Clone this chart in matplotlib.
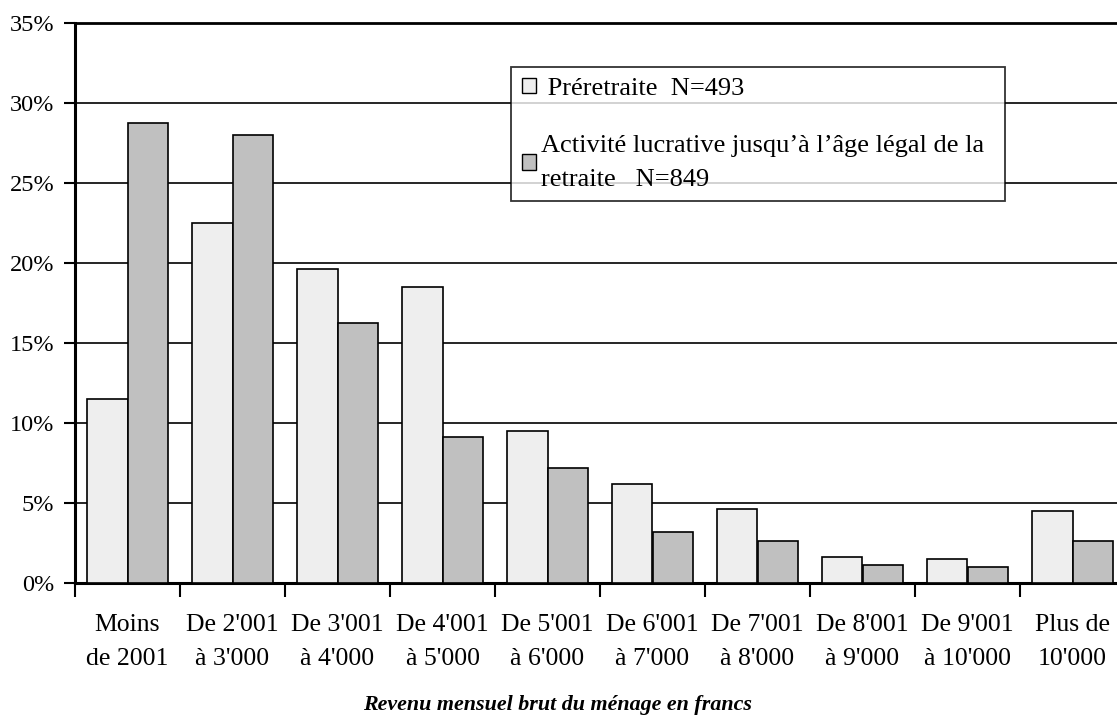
import matplotlib
matplotlib.use("Agg")
import matplotlib.pyplot as plt
from matplotlib.patches import Patch
from matplotlib.ticker import FuncFormatter
import numpy as np

# Données (en %)
categories = ["Moins\nde 2001", "De 2'001\nà 3'000", "De 3'001\nà 4'000",
              "De 4'001\nà 5'000", "De 5'001\nà 6'000", "De 6'001\nà 7'000",
              "De 7'001\nà 8'000", "De 8'001\nà 9'000", "De 9'001\nà 10'000",
              "Plus de\n10'000"]
preretraite = [11.5, 22.5, 19.6, 18.5, 9.5, 6.2, 4.6, 1.6, 1.5, 4.5]
activite = [28.75, 28.0, 16.25, 9.1, 7.2, 3.2, 2.6, 1.1, 1.0, 2.6]
legend_labels = [" Préretraite  N=493",
                 "Activité lucrative jusqu\u2019à l\u2019âge légal de la\nretraite   N=849"]

plt.rcParams['font.family'] = ['Liberation Serif', 'DejaVu Serif']

fig = plt.figure(figsize=(11.17, 7.17), dpi=100)
ax = fig.add_axes([75 / 1117, 1 - 583 / 717, 1050 / 1117, 560 / 717])

x = np.arange(len(categories))
w = 0.39
ax.bar(x - w / 2, preretraite, w, color='#EEEEEE', edgecolor='black', linewidth=1.2, zorder=3)
ax.bar(x + w / 2, activite, w, color='#C0C0C0', edgecolor='black', linewidth=1.2, zorder=3)

ax.set_xlim(-0.5, 9.5)
ax.set_ylim(0, 35)
ax.set_yticks(np.arange(0, 36, 5))
ax.yaxis.set_major_formatter(FuncFormatter(lambda v, p: f"{v:.0f}%"))
ax.yaxis.grid(True, color='black', linewidth=1.2, zorder=0)
ax.set_axisbelow(True)

ax.set_xticks(x)
ax.set_xticklabels(categories, fontsize=18.5, linespacing=1.72)
ax.set_xticks(np.arange(-0.5, 9.6, 1), minor=True)
ax.tick_params(axis='x', which='major', length=0, pad=22)
ax.tick_params(axis='x', which='minor', length=10, width=1.5, direction='out')
ax.tick_params(axis='y', length=8, width=1.5, pad=7, labelsize=17.5)

for s in ['left', 'bottom']:
    ax.spines[s].set_linewidth(2.2)
ax.spines['top'].set_linewidth(2.0)
ax.spines['right'].set_visible(False)

handles = [Patch(facecolor='#EEEEEE', edgecolor='black'),
           Patch(facecolor='#C0C0C0', edgecolor='black')]
leg = fig.legend(handles, legend_labels, loc='upper left', mode='expand',
                 bbox_to_anchor=(511 / 1117, 1 - 200 / 717, 494 / 1117, 133 / 717),
                 fontsize=19, frameon=True, fancybox=False, edgecolor='black',
                 handlelength=0.55, handleheight=0.55, handletextpad=0.2,
                 labelspacing=1.35, borderpad=0.4, borderaxespad=0)
leg.get_frame().set_linewidth(1.3)
leg.get_texts()[1].set_linespacing(1.65)

fig.text(558 / 1117, 1 - 705 / 717, "Revenu mensuel brut du ménage en francs",
         ha='center', va='center', fontsize=15.8, fontweight='bold', fontstyle='italic')

fig.savefig("out.png", dpi=100)
